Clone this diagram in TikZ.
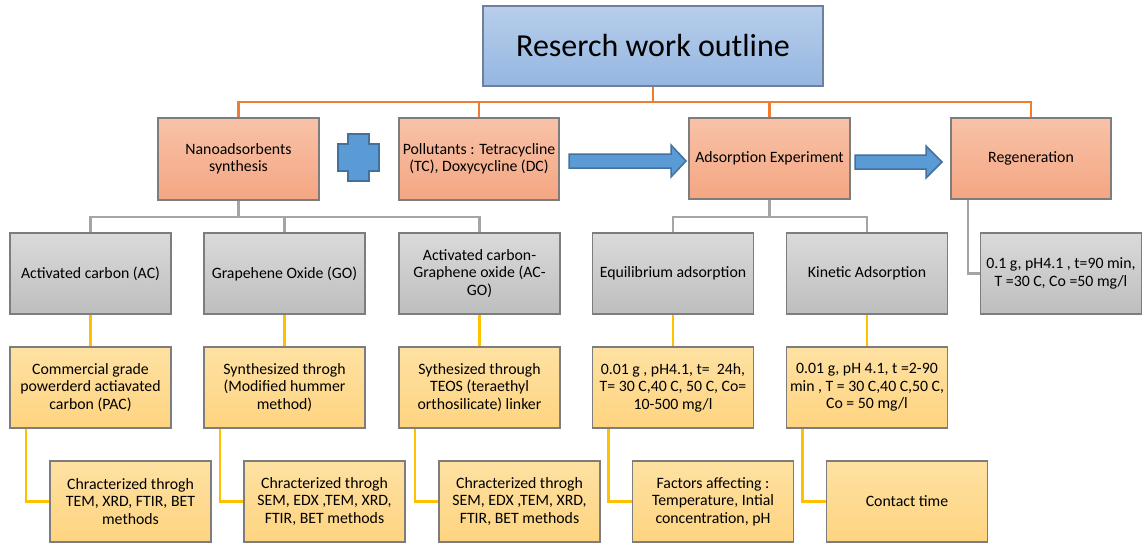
\documentclass[tikz,border=0pt]{standalone}
\usepackage{fontspec}
\setmainfont{Carlito}
\definecolor{orTop}{RGB}{248,194,168}
\definecolor{orBot}{RGB}{244,166,130}
\definecolor{grTop}{RGB}{218,218,218}
\definecolor{grBot}{RGB}{190,190,190}
\definecolor{yeTop}{RGB}{254,225,162}
\definecolor{yeBot}{RGB}{254,212,128}
\definecolor{blTop}{RGB}{183,206,235}
\definecolor{blBot}{RGB}{149,182,225}
\definecolor{bordC}{RGB}{125,125,125}
\definecolor{blBord}{RGB}{110,128,155}
\definecolor{orLine}{RGB}{237,125,49}
\definecolor{grLine}{RGB}{165,165,165}
\definecolor{yeLine}{RGB}{255,192,0}
\definecolor{arFill}{RGB}{91,155,213}
\definecolor{arBord}{RGB}{65,113,156}
\begin{document}
\begin{tikzpicture}[x=1pt,y=-1pt,
  basebox/.style={draw=bordC, line width=1.3pt, align=center, inner xsep=1pt, inner ysep=3pt,
    minimum width=161pt, minimum height=81pt,
    font=\fontsize{15.8}{17.5}\selectfont},
  obox/.style={basebox, top color=orTop, bottom color=orBot},
  gbox/.style={basebox, top color=grTop, bottom color=grBot},
  ybox/.style={basebox, top color=yeTop, bottom color=yeBot},
  tbox/.style={draw=blBord, line width=1.3pt, top color=blTop, bottom color=blBot,
    minimum width=340pt, minimum height=80pt,
    font=\fontsize{32}{38}\selectfont},
  oline/.style={draw=orLine, line width=2.4pt},
  gline/.style={draw=grLine, line width=2.4pt},
  yline/.style={draw=yeLine, line width=2.4pt},
  blockarrow/.style={fill=arFill, draw=arBord, line width=1.5pt, line join=miter}
]
\useasboundingbox (0,0) rectangle (1143,544);

% title
\node[tbox] (top) at (653,46) {Reserch work outline};

% orange row
\node[obox, minimum height=82pt] (nano) at (238.5,159) {Nanoadsorbents\\synthesis};
\node[obox, minimum height=82pt, minimum width=160pt] (poll) at (479,159) {Pollutants : Tetracycline\\(TC), Doxycycline (DC)};
\node[obox] (ads) at (769.5,158.5) {Adsorption Experiment};
\node[obox, minimum width=160pt] (regen) at (1031,158.5) {Regeneration};

% gray row
\node[gbox] (ac) at (90.5,273.5) {Activated carbon (AC)};
\node[gbox] (go) at (284.5,273.5) {Grapehene Oxide (GO)};
\node[gbox] (acgo) at (479.5,273.5) {Activated carbon-\\Graphene oxide (AC-\\GO)};
\node[gbox] (eq) at (673,273.5) {Equilibrium adsorption};
\node[gbox] (kin) at (867,273.5) {Kinetic Adsorption};
\node[gbox] (rp) at (1061,273.5) {0.1 g, pH4.1 , t=90 min,\\T =30 C, Co =50 mg/l};

% yellow row 1
\node[ybox] (ac1) at (90.5,387.5) {Commercial grade\\powerderd actiavated\\carbon (PAC)};
\node[ybox] (go1) at (284.5,387.5) {Synthesized throgh\\(Modified hummer\\method)};
\node[ybox] (acgo1) at (479.5,387.5) {Sythesized through\\TEOS (teraethyl\\orthosilicate) linker};
\node[ybox] (eq1) at (673,387.5) {0.01 g , pH4.1, t=\ \ 24h,\\T= 30 C,40 C, 50 C, Co=\\10-500 mg/l};
\node[ybox] (kin1) at (867,387.5) {0.01 g, pH 4.1, t =2-90\\min , T = 30 C,40 C,50 C,\\Co = 50 mg/l};

% yellow row 2
\node[ybox] (ac2) at (130.5,501.5) {Chracterized throgh\\TEM, XRD, FTIR, BET\\methods};
\node[ybox] (go2) at (324.5,501.5) {Chracterized throgh\\SEM, EDX ,TEM, XRD,\\FTIR, BET methods};
\node[ybox] (acgo2) at (519.5,501.5) {Chracterized throgh\\SEM, EDX ,TEM, XRD,\\FTIR, BET methods};
\node[ybox] (eq2) at (713,501.5) {Factors affecting :\\Temperature, Intial\\concentration, pH};
\node[ybox] (kin2) at (907,501.5) {Contact time};

% orange connectors
\coordinate (ob) at (653,102);
\draw[oline] (top.south) -- (ob);
\draw[oline] (nano.north) -- (nano.north |- ob) -- (regen.north |- ob) -- (regen.north);
\draw[oline] (poll.north) -- (poll.north |- ob);
\draw[oline] (ads.north) -- (ads.north |- ob);

% gray connectors
\coordinate (gb) at (0,217);
\draw[gline] (nano.south) -- (nano.south |- gb);
\draw[gline] (ac.north) -- (ac.north |- gb) -- (acgo.north |- gb) -- (acgo.north);
\draw[gline] (go.north) -- (go.north |- gb);
\draw[gline] (ads.south) -- (ads.south |- gb);
\draw[gline] (eq.north) -- (eq.north |- gb) -- (kin.north |- gb) -- (kin.north);
\draw[gline] ([xshift=-63pt]regen.south) |- (rp.west);

% yellow connectors
\foreach \a in {ac,go,acgo,eq,kin} {
  \draw[yline] (\a.south) -- (\a1.north);
  \draw[yline] ([xshift=-64.5pt]\a1.south) |- (\a2.west);
}

% plus sign
\draw[blockarrow] (348,134) -- (369,134) -- (369,144) -- (379,144) -- (379,171)
  -- (369,171) -- (369,181) -- (348,181) -- (348,171) -- (338,171) -- (338,144)
  -- (348,144) -- cycle;

% block arrows
\draw[blockarrow] (569,154) -- (671,154) -- (671,145) -- (686,161) -- (671,177)
  -- (671,168) -- (569,168) -- cycle;
\draw[blockarrow] (855,155) -- (926,155) -- (926,146) -- (942,162) -- (926,178)
  -- (926,169) -- (855,169) -- cycle;
\end{tikzpicture}
\end{document}
